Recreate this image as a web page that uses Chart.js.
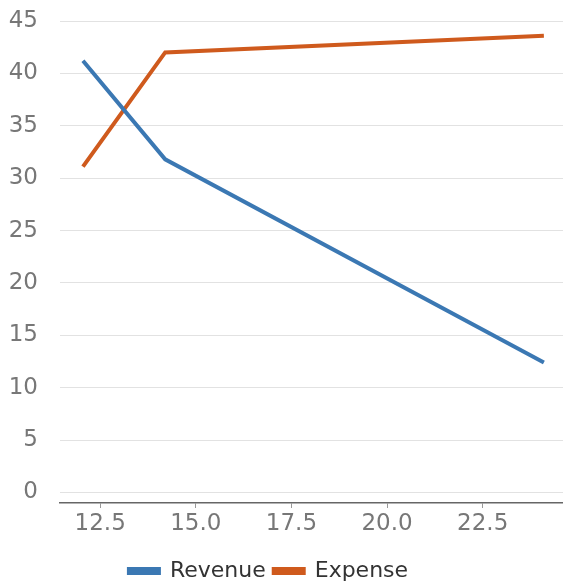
<!DOCTYPE html>
<html>
<head>
<meta charset="utf-8">
<script src="https://cdn.jsdelivr.net/npm/chart.js@4/dist/chart.umd.min.js"></script>
<style>
  html, body { margin: 0; padding: 0; background: #fff; }
  #wrap { width: 563px; height: 588px; }
</style>
</head>
<body>
<div id="wrap"><canvas id="myChart" width="563" height="588"></canvas></div>
<script>
// values
const xValues = [12.05, 14.2, 24.1];
const revenue = [41.2, 31.8, 12.4];
const expense = [31.1, 42.0, 43.6];
const xTicks = [12.5, 15.0, 17.5, 20.0, 22.5];
const yTicks = [0, 5, 10, 15, 20, 25, 30, 35, 40, 45];

const blue = '#3b78b3';
const orange = '#cf5a1d';

function points(ys) {
    return xValues.map((x, i) => ({ x: x, y: ys[i] }));
}

// nudge the legend a bit left and down, like the reference
const legendShift = {
    id: 'legendShift',
    afterInit(chart) {
        const lg = chart.legend;
        const draw = lg.draw;
        lg.draw = function() {
            chart.ctx.save();
            chart.ctx.translate(-13, 4);
            draw.apply(this, arguments);
            chart.ctx.restore();
        };
    }
};

const ctx = document.getElementById('myChart').getContext('2d');
const myChart = new Chart(ctx, {
    type: 'line',
    data: {
        datasets: [{
            label: 'Revenue',
            data: points(revenue),
            borderColor: blue,
            backgroundColor: blue,
            borderWidth: 4,
            tension: 0
        }, {
            label: 'Expense',
            data: points(expense),
            borderColor: orange,
            backgroundColor: orange,
            borderWidth: 4,
            tension: 0
        }]
    },
    plugins: [legendShift],
    options: {
        responsive: false,
        animation: false,
        layout: {
            padding: { left: 0, right: 0, top: 0, bottom: 0 }
        },
        plugins: {
            legend: {
                position: 'bottom',
                labels: {
                    boxWidth: 30,
                    boxHeight: 4,
                    padding: 8,
                    color: '#333',
                    font: { family: 'DejaVu Sans', size: 22 }
                }
            },
            tooltip: { enabled: false }
        },
        elements: {
            point: { radius: 0 }
        },
        scales: {
            x: {
                type: 'linear',
                min: 11.45,
                max: 24.6,
                afterBuildTicks: function(scale) {
                    scale.ticks = xTicks.map(v => ({ value: v }));
                },
                afterFit: function(scale) {
                    scale.height = 45;
                },
                grid: {
                    drawOnChartArea: false,
                    drawTicks: true,
                    tickLength: 5,
                    tickColor: '#999'
                },
                border: { display: true, color: '#666', width: 1.5 },
                ticks: {
                    padding: 2,
                    maxRotation: 0,
                    color: '#777',
                    font: { family: 'DejaVu Sans', size: 23 },
                    callback: function(value) {
                        return value.toFixed(1);
                    }
                }
            },
            y: {
                min: -1,
                max: 45,
                afterBuildTicks: function(scale) {
                    scale.ticks = yTicks.map(v => ({ value: v }));
                },
                afterFit: function(scale) {
                    scale.width = 60;
                    scale.paddingTop = 21;
                },
                grid: {
                    color: '#e2e2e2',
                    drawTicks: false
                },
                border: { display: false },
                ticks: {
                    padding: 22,
                    color: '#777',
                    font: { family: 'DejaVu Sans', size: 23 }
                }
            }
        }
    }
});
</script>
</body>
</html>
